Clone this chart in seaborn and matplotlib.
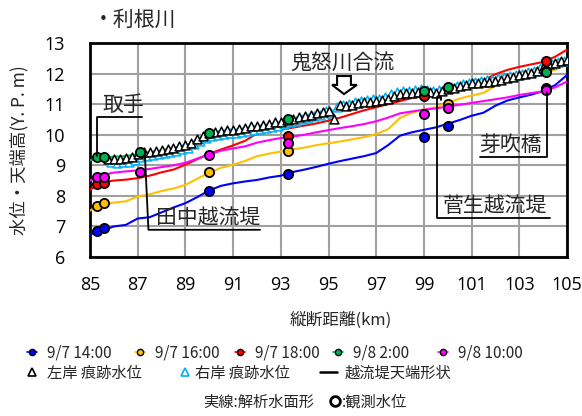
import numpy as np
import matplotlib
matplotlib.use("Agg")
import matplotlib.pyplot as plt
from matplotlib.lines import Line2D
from matplotlib.patches import Polygon
import seaborn as sns

sns.set_style("white")
plt.rcParams['font.family'] = ['Noto Sans CJK JP', 'DejaVu Sans']

# ---------------- data ----------------
times = ['9/7 14:00', '9/7 16:00', '9/7 18:00', '9/8 2:00', '9/8 10:00']
colors = ['#0000FF', '#FFC000', '#FF0000', '#00B050', '#FF00FF']

# computed water surface profiles (km stations every 0.5 km)
km = np.arange(85.0, 105.01, 0.5)
wl_0714 = [6.74, 6.86, 7.00, 7.05, 7.26, 7.30, 7.46, 7.62, 7.76, 7.96,
           8.18, 8.33, 8.41, 8.47, 8.52, 8.60, 8.66, 8.78, 8.86, 8.95,
           9.05, 9.14, 9.22, 9.30, 9.40, 9.66, 9.97, 10.08, 10.16, 10.24,
           10.36, 10.48, 10.62, 10.72, 10.95, 11.12, 11.22, 11.31, 11.43, 11.62,
           11.95]
wl_0716 = [7.52, 7.72, 7.78, 7.82, 7.98, 8.05, 8.16, 8.24, 8.36, 8.56,
           8.76, 8.92, 9.02, 9.14, 9.30, 9.38, 9.45, 9.52, 9.58, 9.66,
           9.72, 9.78, 9.85, 9.92, 10.02, 10.18, 10.55, 10.72, 10.82, 10.90,
           11.04, 11.18, 11.28, 11.37, 11.60, 11.80, 11.86, 11.92, 12.02, 12.12,
           12.32]
wl_0718 = [8.20, 8.44, 8.50, 8.53, 8.58, 8.66, 8.77, 8.86, 9.02, 9.20,
           9.38, 9.52, 9.65, 9.80, 10.04, 10.12, 10.17, 10.23, 10.30, 10.37,
           10.46, 10.56, 10.68, 10.80, 10.90, 11.00, 11.10, 11.20, 11.28, 11.36,
           11.46, 11.55, 11.65, 11.78, 11.98, 12.12, 12.22, 12.30, 12.38, 12.55,
           12.78]
wl_0802 = [9.16, 9.25, 9.28, 9.30, 9.36, 9.42, 9.48, 9.56, 9.64, 9.80,
           10.00, 10.08, 10.13, 10.18, 10.26, 10.32, 10.40, 10.48, 10.56, 10.64,
           10.72, 10.86, 10.92, 11.00, 11.06, 11.14, 11.26, 11.34, 11.40, 11.44,
           11.48, 11.55, 11.62, 11.68, 11.74, 11.84, 11.92, 12.00, 12.08, 12.22,
           12.40]
wl_0810 = [8.50, 8.68, 8.76, 8.80, 8.83, 8.88, 8.94, 9.00, 9.08, 9.22,
           9.36, 9.48, 9.55, 9.62, 9.74, 9.82, 9.89, 9.94, 10.00, 10.08,
           10.15, 10.22, 10.28, 10.35, 10.44, 10.56, 10.70, 10.76, 10.82, 10.86,
           10.92, 10.98, 11.04, 11.10, 11.16, 11.22, 11.30, 11.36, 11.42, 11.55,
           11.74]
profiles = [wl_0714, wl_0716, wl_0718, wl_0802, wl_0810]

# observed water levels at gauging stations
obs_0714_km = [85.3, 85.6, 90.0, 93.3, 99.0, 100.0, 104.1]
obs_0714 = [6.86, 6.96, 8.16, 8.73, 9.93, 10.30, 11.52]
obs_0716_km = [85.3, 85.6, 90.0, 93.3, 100.0, 104.1]
obs_0716 = [7.67, 7.76, 8.77, 9.47, 11.02, 12.08]
obs_0718_km = [85.3, 85.6, 93.3, 99.0, 104.1]
obs_0718 = [8.39, 8.41, 9.97, 11.28, 12.42]
obs_0802_km = [85.3, 85.6, 87.08, 90.0, 93.3, 99.0, 100.0, 104.1]
obs_0802 = [9.27, 9.27, 9.42, 10.05, 10.51, 11.43, 11.55, 12.06]
obs_0810_km = [85.3, 85.6, 87.08, 90.0, 93.3, 99.0, 100.0, 104.1]
obs_0810 = [8.61, 8.61, 8.79, 9.34, 9.74, 10.69, 10.87, 11.46]
obs_km = [obs_0714_km, obs_0716_km, obs_0718_km, obs_0802_km, obs_0810_km]
obs_wl = [obs_0714, obs_0716, obs_0718, obs_0802, obs_0810]

# flood marks, left bank (every 0.25 km)
left_km = np.arange(85.75, 105.01, 0.25)
left_mark = [9.22, 9.20, 9.22, 9.24, 9.28, 9.36, 9.42, 9.45, 9.48, 9.50,
             9.54, 9.58, 9.62, 9.66, 9.72, 9.85, 9.95, 10.05, 10.08, 10.12,
             10.14, 10.17, 10.20, 10.22, 10.27, 10.30, 10.33, 10.36, 10.40, 10.43,
             10.48, 10.53, 10.58, 10.62, 10.66, 10.70, 10.73, 10.76, 10.50, 10.96,
             10.95, 10.98, 11.03, 11.06, 11.08, 11.10, 11.12, 11.18, 11.26, 11.34,
             11.36, 11.38, 11.40, 11.44, 11.40, 11.37, 11.42, 11.50, 11.54, 11.58,
             11.64, 11.68, 11.70, 11.72, 11.74, 11.76, 11.80, 11.86, 11.90, 11.94,
             11.98, 12.02, 12.10, 12.18, 12.30, 12.36, 12.40, 12.44]
# flood marks, right bank
right_km = np.arange(85.875, 104.9, 0.25)
right_mark = [9.10, 9.08, 9.10, 9.12, 9.18, 9.26, 9.30, 9.34, 9.36, 9.40,
              9.44, 9.48, 9.52, 9.58, 9.68, 9.80, 9.90, 9.96, 10.00, 10.02,
              10.05, 10.07, 10.09, 10.12, 10.16, 10.19, 10.22, 10.26, 10.30, 10.34,
              10.40, 10.45, 10.50, 10.55, 10.60, 10.66, 10.78, 10.72, 10.92, 10.98,
              11.02, 11.06, 11.10, 11.14, 11.16, 11.18, 11.24, 11.32, 11.40, 11.42,
              11.44, 11.46, 11.48, 11.46, 11.42, 11.46, 11.52, 11.56, 11.60, 11.66,
              11.70, 11.73, 11.76, 11.78, 11.80, 11.84, 11.88, 11.92, 11.96, 12.00,
              12.04, 12.10, 12.18, 12.26, 12.32, 12.38, 12.42]

x_ticks = list(range(85, 106, 2))
y_ticks = list(range(6, 14))

# ---------------- figure ----------------
W, H = 582, 416
fig = plt.figure(figsize=(W / 100, H / 100), dpi=100)
ax = fig.add_axes([90 / W, 1 - 257 / H, 477 / W, 214 / H])

for vals, c in zip(profiles, colors):
    sns.lineplot(x=km, y=vals, color=c, lw=1.5, ax=ax, zorder=3)

sns.scatterplot(x=right_km, y=right_mark, marker='^', s=40, color='white',
                edgecolor='#00B0F0', linewidth=1.1, ax=ax, zorder=4)
sns.scatterplot(x=left_km, y=left_mark, marker='^', s=40, color='white',
                edgecolor='black', linewidth=1.1, ax=ax, zorder=5)

for xs, ys, c in zip(obs_km, obs_wl, colors):
    sns.scatterplot(x=xs, y=ys, color=c, edgecolor='black', s=44,
                    linewidth=1.3, ax=ax, zorder=6)

ax.set_xlim(85, 105)
ax.set_ylim(6, 13)
ax.set_xticks(x_ticks)
ax.set_yticks(y_ticks)
ax.grid(True, color='#a0a0a0', lw=1.5)
ax.set_axisbelow(True)
for s in ax.spines.values():
    s.set_color('black')
    s.set_linewidth(2)
ax.tick_params(axis='both', direction='out', length=5, width=1.5,
               colors='black', labelsize=13)
ax.tick_params(axis='x', pad=9)
ax.tick_params(axis='y', pad=13)
for lab in ax.get_xticklabels() + ax.get_yticklabels():
    lab.set_family(['Open Sans', 'DejaVu Sans'])

ax.set_xlabel('縦断距離(km)', fontsize=12)
ax.set_ylabel('水位・天端高(Y. P. m)', fontsize=12.5)
ax.xaxis.set_label_coords((341 - 90) / 477, (257 - 312) / 214)
ax.yaxis.set_label_coords((28 - 90) / 477, 0.5)

# ---------------- callouts ----------------
call = dict(color='black', lw=1.3, clip_on=False, zorder=7)
afs = 15

# 取手
ax.plot([85.28, 85.28, 87.18], [9.30, 10.58, 10.58], **call)
ax.text(85.52, 10.62, '取手', fontsize=afs, ha='left', va='bottom', zorder=7)

# 田中越流堤
ax.plot([87.3, 87.45, 92.13], [9.38, 6.89, 6.89], **call)
ax.text(87.75, 6.93, '田中越流堤', fontsize=afs, ha='left', va='bottom', zorder=7)

# 鬼怒川合流
ax.text(95.57, 12.35, '鬼怒川合流', fontsize=afs, ha='center', va='center', zorder=7)
arrow = Polygon([(95.36, 11.92), (95.94, 11.92), (95.94, 11.63), (96.19, 11.63),
                 (95.65, 11.33), (95.15, 11.63), (95.36, 11.63)],
                closed=True, facecolor='white', edgecolor='black', lw=1.5, zorder=7)
ax.add_patch(arrow)

# 芽吹橋
ax.plot([104.15, 104.15, 101.35], [11.40, 9.27, 9.27], **call)
ax.text(103.95, 9.31, '芽吹橋', fontsize=afs, ha='right', va='bottom', zorder=7)

# 菅生越流堤
ax.plot([99.72, 99.72, 99.55, 99.55, 104.3], [11.12, 11.22, 11.22, 7.28, 7.28], **call)
ax.text(99.8, 7.32, '菅生越流堤', fontsize=afs, ha='left', va='bottom', zorder=7)

# title
fig.text(93 / W, 1 - 20 / H, '・利根川', fontsize=15, ha='left', va='center')

# ---------------- legend ----------------
lfs = 11
px_per_em = lfs * 100 / 72


def legend_item(handle, label, x_px, y_px, hlen_px, pad_px):
    fig.legend([handle], [label], loc='center left',
               bbox_to_anchor=(x_px / W, 1 - y_px / H), frameon=False,
               borderpad=0, borderaxespad=0, fontsize=lfs,
               handlelength=hlen_px / px_per_em,
               handletextpad=pad_px / px_per_em)


row1_x = [27, 135, 235, 333, 438]
for t, c, x0 in zip(times, colors, row1_x):
    h = Line2D([], [], color=c, lw=1.2, marker='o', markersize=4.5,
               markerfacecolor=c, markeredgecolor='black', markeredgewidth=1.0)
    legend_item(h, t, x0, 353, 10, 10)

h_left = Line2D([], [], ls='none', marker='^', markersize=5.5,
                markerfacecolor='white', markeredgecolor='black', markeredgewidth=1.2)
legend_item(h_left, '左岸 痕跡水位', 27, 373, 10, 10)
h_right = Line2D([], [], ls='none', marker='^', markersize=5.5,
                 markerfacecolor='white', markeredgecolor='#00B0F0', markeredgewidth=1.2)
legend_item(h_right, '右岸 痕跡水位', 180, 373, 10, 5)
h_crest = Line2D([], [], color='black', lw=1.8)
legend_item(h_crest, '越流堤天端形状', 320, 373, 17, 8)

fig.text(203 / W, 1 - 402 / H, '実線:解析水面形', fontsize=lfs, ha='left', va='center')
h_obs = Line2D([], [], ls='none', marker='o', markersize=7,
               markerfacecolor='white', markeredgecolor='black', markeredgewidth=2)
legend_item(h_obs, ':観測水位', 330, 402, 10, 2)

fig.savefig('out.png', dpi=100)
